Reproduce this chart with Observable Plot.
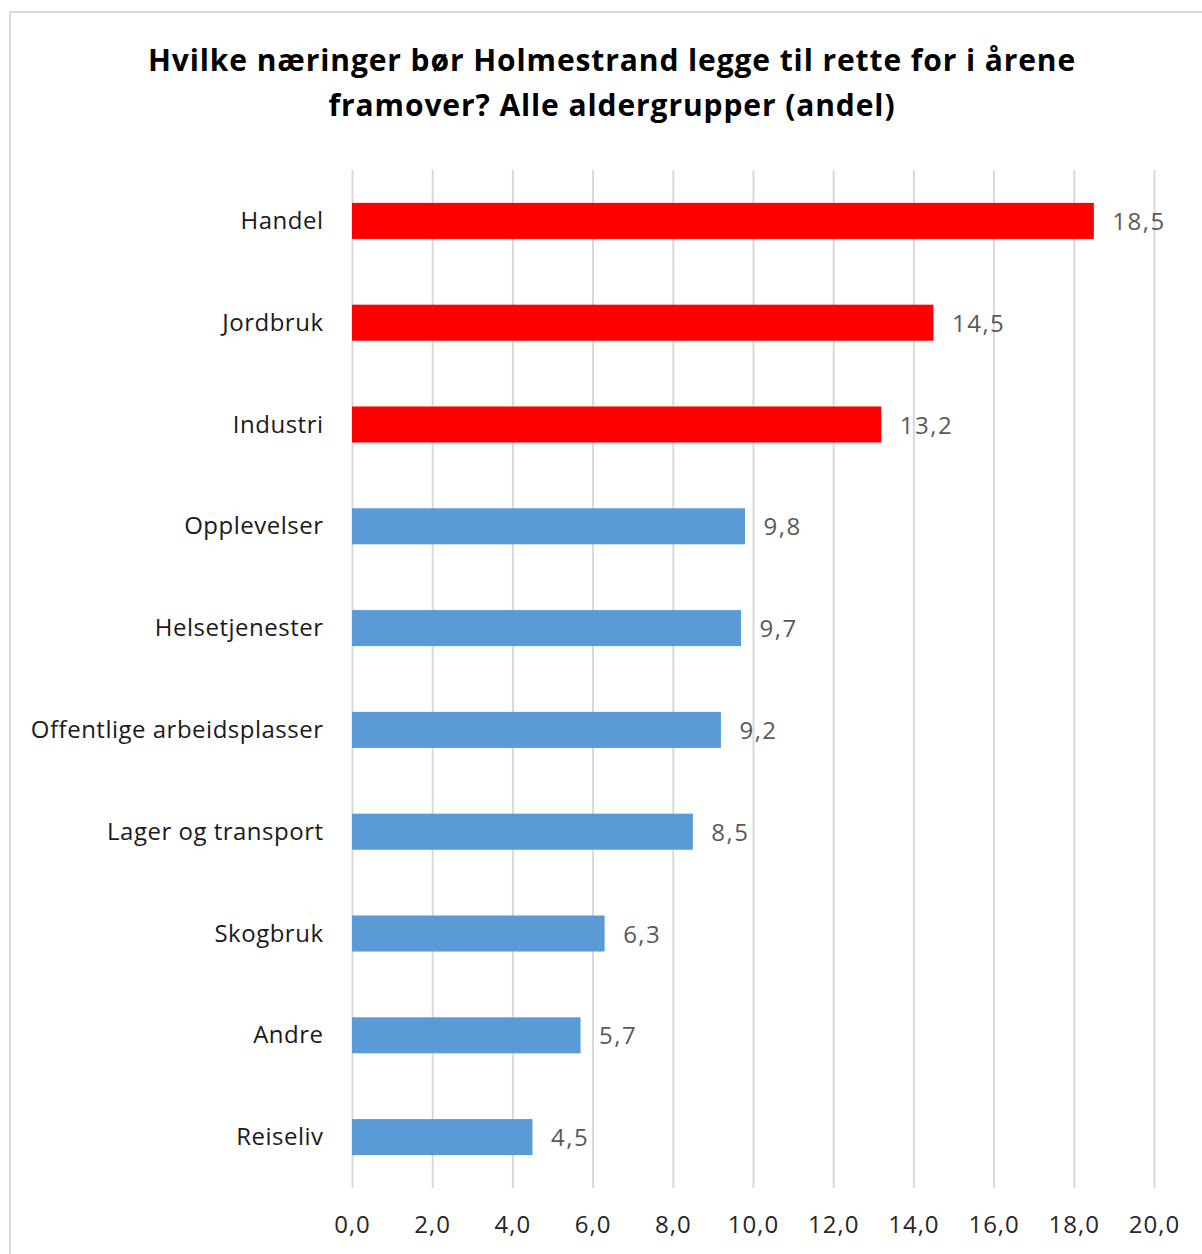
<!DOCTYPE html>
<html>
<head>
<meta charset="utf-8">
<script src="https://cdn.jsdelivr.net/npm/d3@7"></script>
<script src="https://cdn.jsdelivr.net/npm/@observablehq/plot@0.6"></script>
<style>
  html, body { margin: 0; padding: 0; background: #fff; }
  body { width: 1202px; height: 1254px; position: relative; overflow: hidden; font-family: "Open Sans", sans-serif; }
  #frame { position: absolute; left: 9px; top: 11px; width: 1220px; height: 1280px; border: 2.5px solid #d9d9d9; box-sizing: border-box; }
  #title { position: absolute; left: 0; width: 1224px; top: 37px; text-align: center; font-weight: bold; font-size: 30px; letter-spacing: 0.9px; line-height: 45px; color: #000; }
  #chart { position: absolute; left: 0; top: 0; }
  #chart svg g[aria-label="y-axis tick label"] text { letter-spacing: 0.5px; }
  #chart svg g[aria-label="x-axis tick label"] text { letter-spacing: 1px; }
  #chart svg g[aria-label="text"] text { letter-spacing: 1.5px; }
</style>
</head>
<body>
<div id="frame"></div>
<div id="title">Hvilke næringer bør Holmestrand legge til rette for i årene<br>framover? Alle aldergrupper (andel)</div>
<div id="chart"></div>
<script>
const categories = ["Handel","Jordbruk","Industri","Opplevelser","Helsetjenester","Offentlige arbeidsplasser","Lager og transport","Skogbruk","Andre","Reiseliv"];
const values = [18.5,14.5,13.2,9.8,9.7,9.2,8.5,6.3,5.7,4.5];
const groups = ["top","top","top","other","other","other","other","other","other","other"];
const xTicks = [0,2,4,6,8,10,12,14,16,18,20];

const data = categories.map((c, i) => ({category: c, value: values[i], group: groups[i]}));
const fmt = v => d3.format(".1f")(v).replace(".", ",");

const chart = Plot.plot({
  width: 1202,
  height: 1254,
  marginLeft: 352,
  marginRight: 48,
  marginTop: 170,
  marginBottom: 66,
  style: {fontFamily: "'Open Sans', sans-serif", background: "transparent"},
  x: {domain: [0, 20], ticks: xTicks, tickFormat: fmt, label: null},
  y: {domain: categories, paddingInner: 0.646, paddingOuter: 0.323, round: false, label: null},
  color: {domain: ["top","other"], range: ["#ff0000","#5b9bd5"]},
  marks: [
    Plot.gridX(xTicks, {stroke: "#d9d9d9", strokeOpacity: 1, strokeWidth: 2}),
    Plot.barX(data, {x: "value", y: "category", fill: "group"}),
    Plot.text(data, {x: "value", y: "category", text: d => fmt(d.value), textAnchor: "start", dx: 18, dy: 1, fill: "#595959", fontSize: 24}),
    Plot.axisY({tickSize: 0, tickPadding: 29, fontSize: 24, color: "#1a1a1a"}),
    Plot.axisX(xTicks, {tickSize: 0, tickPadding: 27, fontSize: 24, color: "#262626", tickFormat: fmt})
  ]
});
document.getElementById("chart").appendChild(chart);
</script>
</body>
</html>
